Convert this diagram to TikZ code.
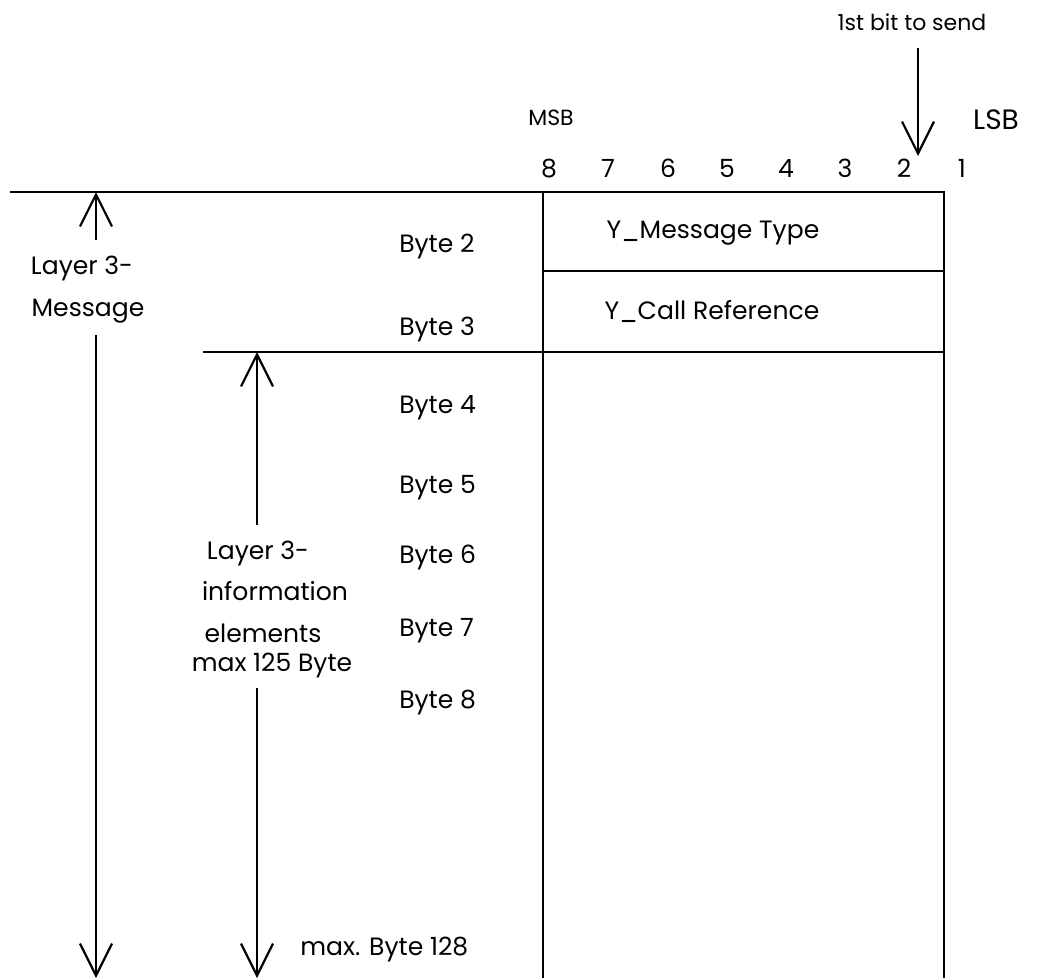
\documentclass[tikz,border=0pt]{standalone}
\usepackage{fontspec}
\setmainfont{Poppins}
\usetikzlibrary{arrows.meta}
\begin{document}
\begin{tikzpicture}[x=0.75pt,y=-0.75pt,
  ln/.style={line width=1.6pt},
  arr/.style={line width=1.6pt,-{Straight Barb[length=24pt,width=24pt,line width=1.6pt]}},
  txt/.style={inner sep=0pt,font=\fontsize{18.8}{22}\selectfont},
  hdr/.style={inner sep=0pt,font=\fontsize{16.5}{20}\selectfont},
  big/.style={inner sep=0pt,font=\fontsize{21}{24}\selectfont}]
\useasboundingbox (0,0) rectangle (1054,978);
% frame
\coordinate (tl) at (10,192);
\coordinate (bx) at (543,192);
\coordinate (br) at (944,192);
\coordinate (bxb) at (543,978);
\coordinate (brb) at (944,978);
\draw[ln] (tl) -- (bx) -- (br) -- (brb);
\draw[ln] (bx) -- (bxb);
\coordinate (s1l) at (543,271); \coordinate (s1r) at (944,271);
\draw[ln] (s1l) -- (s1r);
\coordinate (s2l) at (203,352); \coordinate (s2r) at (944,352);
\draw[ln] (s2l) -- (s2r);
% header
\node[hdr] (first) at (912,22) {1st bit to send};
\coordinate (fa) at (918,48); \coordinate (fb) at (918,156);
\draw[arr] (fa) -- (fb);
\node[big] (lsb) at (996,120) {LSB};
\node[hdr] (msb) at (551,118) {MSB};
\foreach \n/\x in {8/549,7/608,6/668,5/727,4/786,3/845,2/904,1/962}
  \node[txt,anchor=base] (b\n) at (\x,177) {\n};
% fields
\node[txt] (mt) at (713,233) {Y\_Message Type};
\node[txt] (cr) at (712,311) {Y\_Call Reference};
% byte labels
\node[txt,anchor=west] (by2) at (399,247) {Byte 2};
\node[txt,anchor=west] (by3) at (399,329) {Byte 3};
\node[txt,anchor=west] (by4) at (399,408) {Byte 4};
\node[txt,anchor=west] (by5) at (399,488) {Byte 5};
\node[txt,anchor=west] (by6) at (399,557) {Byte 6};
\node[txt,anchor=west] (by7) at (399,631) {Byte 7};
\node[txt,anchor=west] (by8) at (399,703) {Byte 8};
\node[txt,anchor=west] (by128) at (300,950) {max. Byte 128};
% layer 3 message
\node[txt] (lm1) at (82,268) {Layer 3-};
\node[txt] (lm2) at (88,311) {Message};
\coordinate (m1a) at (96,240); \coordinate (m1b) at (96,192);
\coordinate (m2a) at (96,335); \coordinate (m2b) at (96,978);
\draw[arr] (m1a) -- (m1b);
\draw[arr] (m2a) -- (m2b);
% layer 3 information elements
\node[txt] (ie1) at (258,553) {Layer 3-};
\node[txt] (ie2) at (275,591) {information};
\node[txt] (ie3) at (263,633) {elements};
\node[txt] (ie4) at (272,666) {max 125 Byte};
\coordinate (i1a) at (257,525); \coordinate (i1b) at (257,352);
\coordinate (i2a) at (257,688); \coordinate (i2b) at (257,978);
\draw[arr] (i1a) -- (i1b);
\draw[arr] (i2a) -- (i2b);
\end{tikzpicture}
\end{document}
